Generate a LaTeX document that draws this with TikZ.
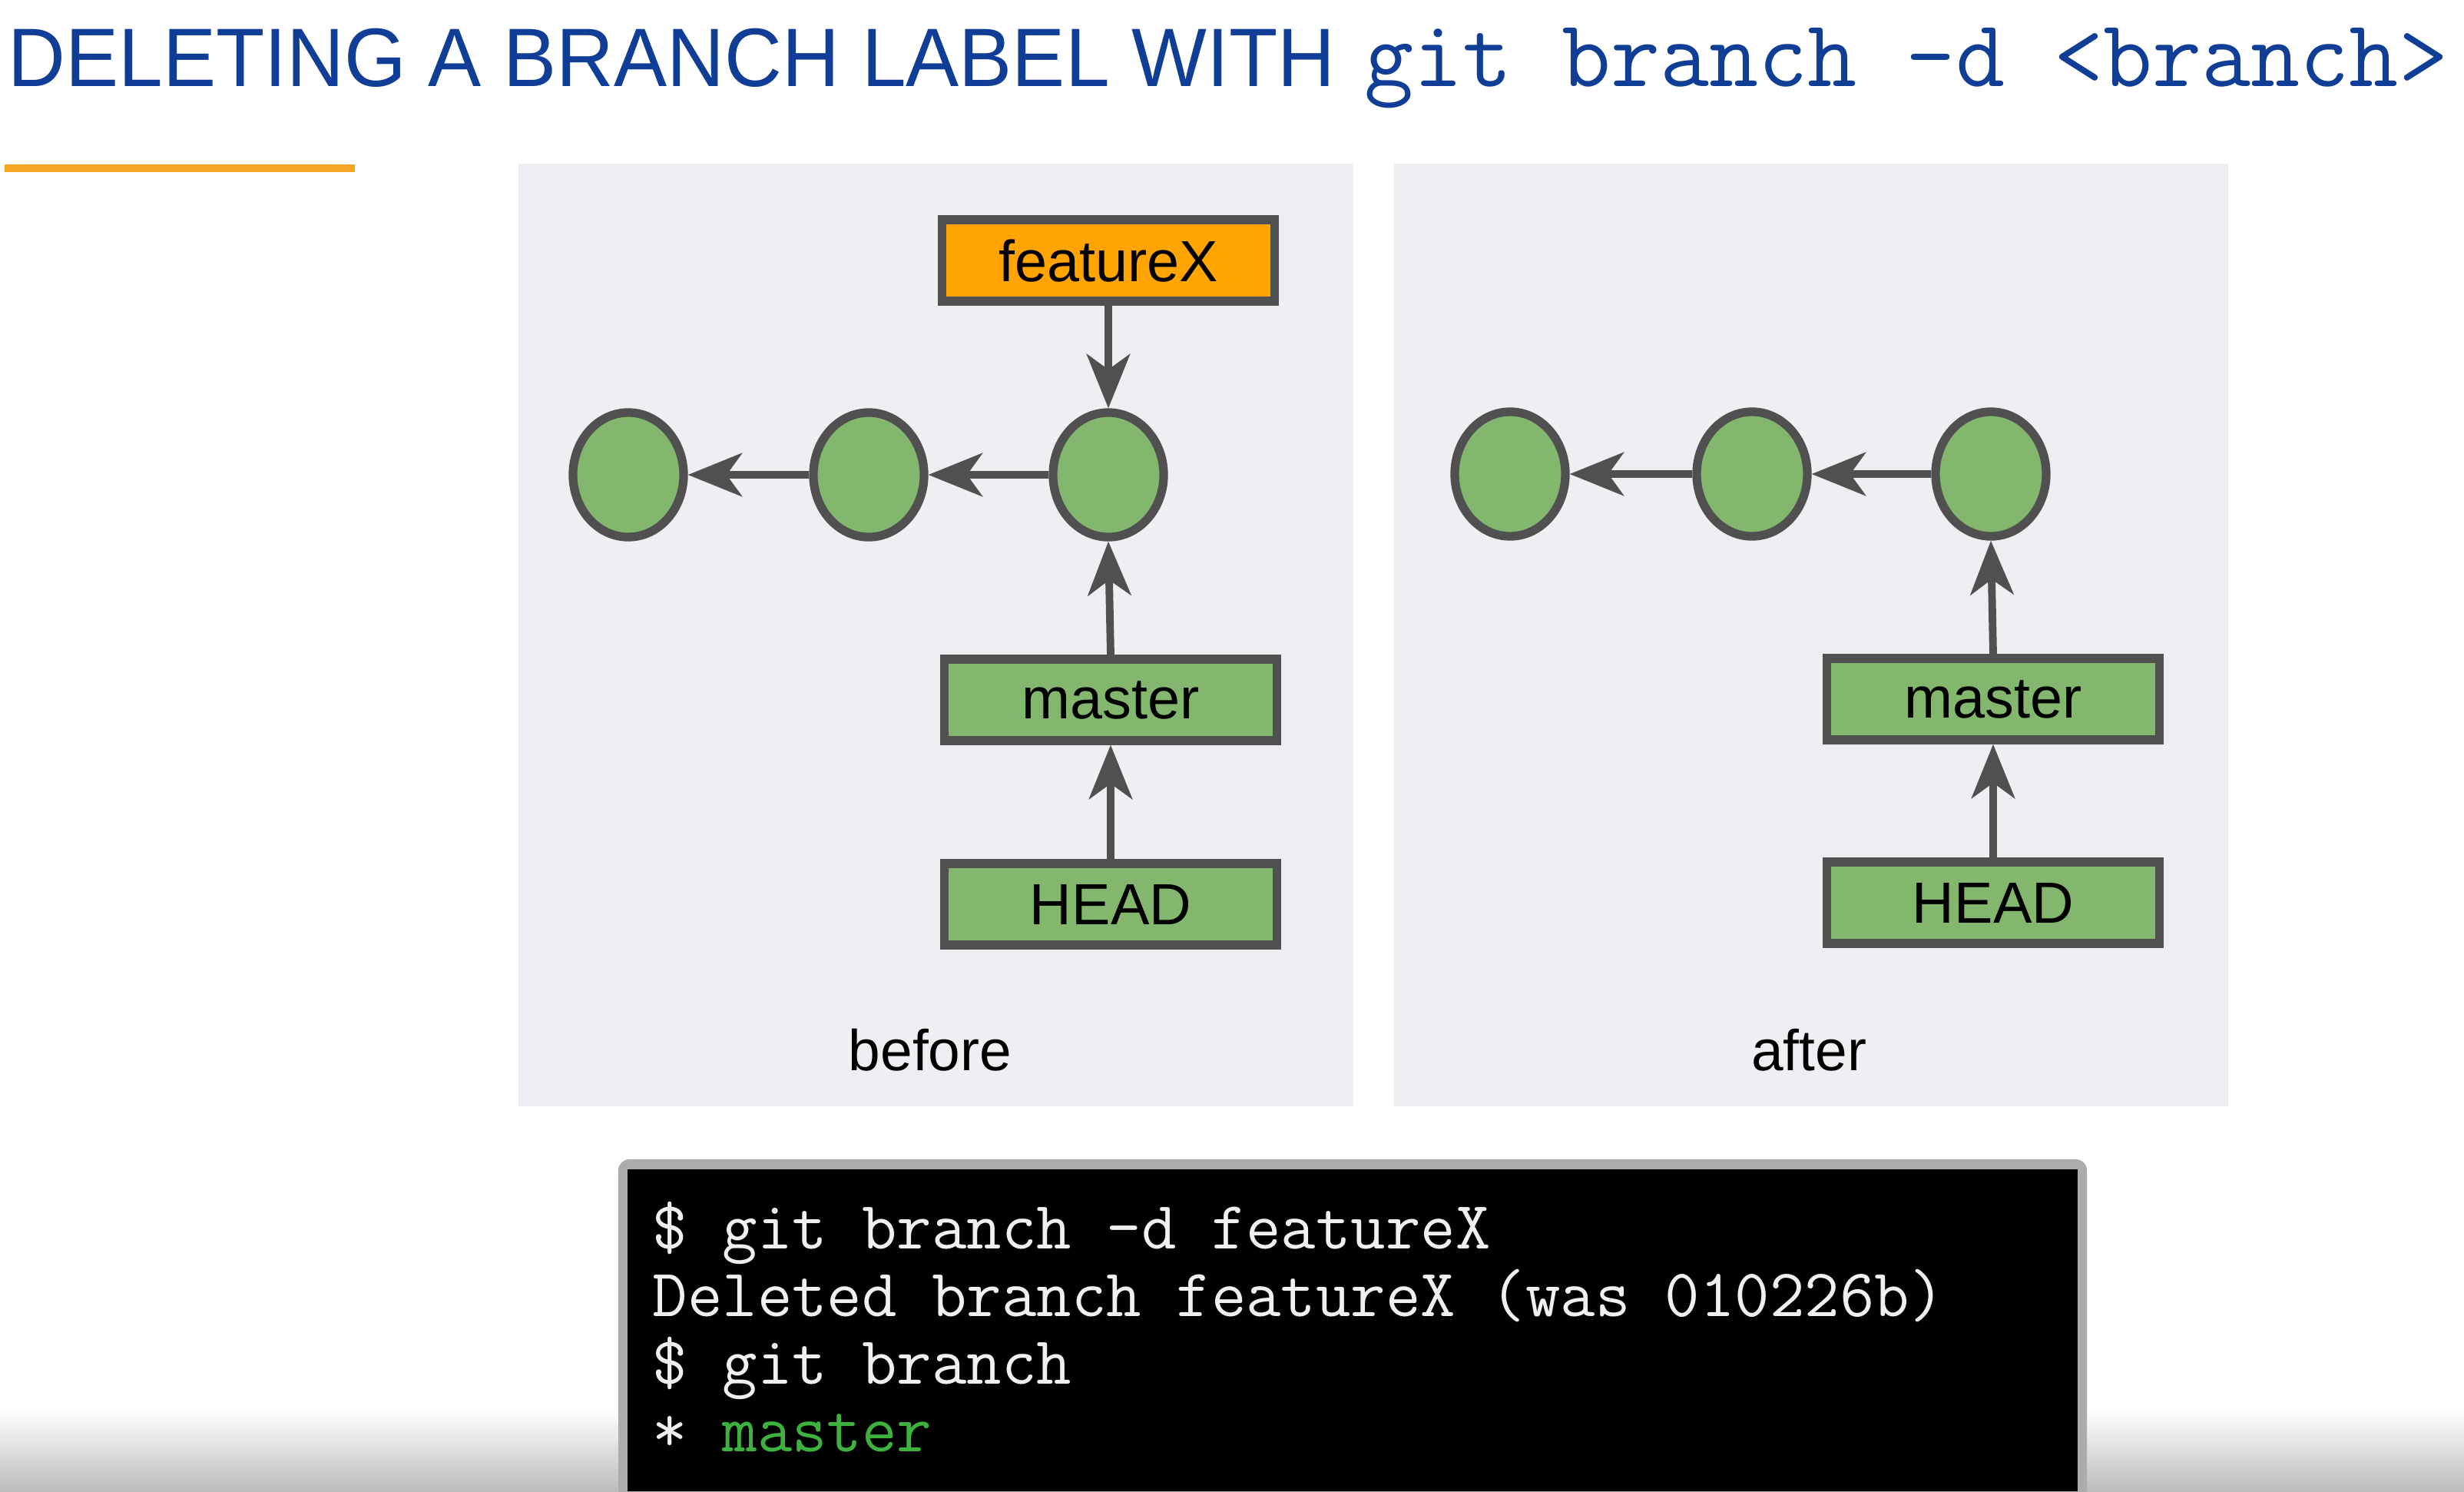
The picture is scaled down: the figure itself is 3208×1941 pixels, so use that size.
\documentclass[tikz,border=0pt]{standalone}
\usepackage{fontspec}
\setmainfont{Liberation Sans}
\newfontfamily\titlefont[FakeStretch=0.96]{Liberation Sans}
\usetikzlibrary{arrows.meta,shapes.geometric}
\definecolor{titleblue}{RGB}{16,62,150}
\definecolor{accent}{RGB}{245,166,35}
\definecolor{panelbg}{RGB}{239,239,243}
\definecolor{commitgreen}{RGB}{132,183,110}
\definecolor{edgegray}{RGB}{80,80,80}
\definecolor{fxorange}{RGB}{255,164,0}
\definecolor{termgray}{RGB}{172,172,172}
\definecolor{termtext}{RGB}{240,240,240}
\definecolor{termgreen}{RGB}{62,178,62}
\definecolor{shadegray}{RGB}{188,188,188}
\begin{document}
\begin{tikzpicture}[x=0.01cm,y=-0.01cm,
  commit/.style={ellipse, draw=edgegray, line width=3.2pt, fill=commitgreen,
    minimum width=1.44cm, minimum height=1.62cm, inner sep=0pt},
  labelbox/.style={rectangle, draw=edgegray, line width=3.2pt, fill=commitgreen,
    minimum width=4.33cm, minimum height=1.06cm, inner sep=0pt,
    font=\fontsize{21.5}{25}\selectfont, text=black},
  fxbox/.style={labelbox, fill=fxorange},
  arr/.style={draw=edgegray, line width=2.8pt,
    -{Stealth[length=20pt,width=16pt,inset=5.7pt]}},
  caption/.style={font=\fontsize{21.3}{25}\selectfont, text=black, inner sep=0pt},
  termline/.style={anchor=base west, inner sep=0pt, text=termtext,
    font=\ttfamily\fontsize{25.1}{28}\selectfont}]
\useasboundingbox (0,0) rectangle (3208,1941);
\fill[white] (0,0) rectangle (3208,1941);
\shade[top color=white, bottom color=shadegray] (0,1835) rectangle (3208,1941);

% title
\node[anchor=base west, inner sep=0pt, text=titleblue,
  font=\titlefont\fontsize{30.7}{36}\selectfont] (title) at (10,112) {DELETING A BRANCH LABEL WITH};
\node[anchor=base west, inner sep=0pt, text=titleblue,
  font=\ttfamily\fontsize{35.4}{40}\selectfont] (cmd) at (1776,112) {git branch -d <branch>};
\fill[accent] (6,214) rectangle (462,224);

% panels
\fill[panelbg] (675,213) rectangle (1762,1440);
\fill[panelbg] (1815,213) rectangle (2901,1440);

% before
\node[fxbox] (fx) at (1443,339) {featureX};
\node[commit] (b1) at (818,618) {};
\node[commit] (b2) at (1131,618) {};
\node[commit] (b3) at (1443,618) {};
\node[labelbox] (bm) at (1446,911) {master};
\node[labelbox] (bh) at (1446,1177) {HEAD};
\draw[arr] (fx) -- (b3);
\draw[arr] (b3) -- (b2);
\draw[arr] (b2) -- (b1);
\draw[arr] (bm.north) -- (b3.south);
\draw[arr] (bh) -- (bm);
\node[caption] (before) at (1211,1367) {before};

% after
\node[commit] (a1) at (1966,617) {};
\node[commit] (a2) at (2281,617) {};
\node[commit] (a3) at (2592,617) {};
\node[labelbox] (am) at (2595,910) {master};
\node[labelbox] (ah) at (2595,1175) {HEAD};
\draw[arr] (a3) -- (a2);
\draw[arr] (a2) -- (a1);
\draw[arr] (am.north) -- (a3.south);
\draw[arr] (ah) -- (am);
\node[caption] (after) at (2355,1367) {after};

% terminal
\fill[termgray, rounded corners=4pt] (805,1509) rectangle (2717,1960);
\fill[black] (817,1522) rectangle (2705,1941);
\node[termline] (t1) at (849,1625) {\$ git branch -d featureX};
\node[termline] (t2) at (849,1713) {Deleted branch featureX (was 010226b)};
\node[termline] (t3) at (849,1801) {\$ git branch};
\node[termline] (t4) at (849,1889) {* \textcolor{termgreen}{master}};
\end{tikzpicture}
\end{document}
